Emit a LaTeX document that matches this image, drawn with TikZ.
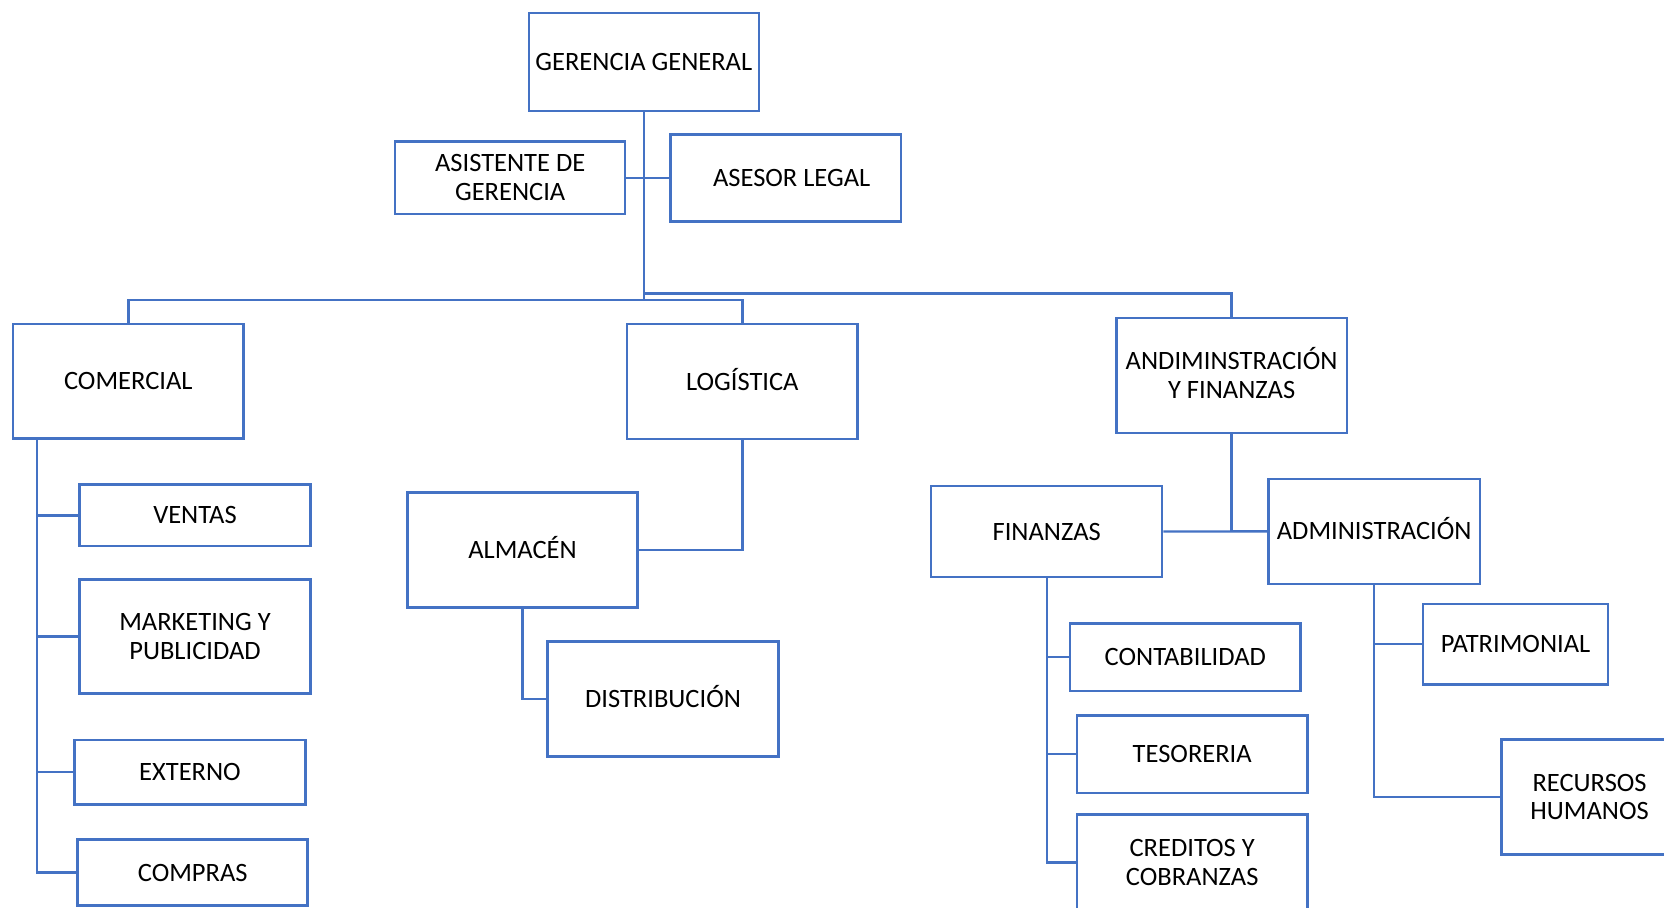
\documentclass[tikz,border=0pt]{standalone}
\usepackage{fontspec}
\setmainfont{Carlito}
\definecolor{officeblue}{HTML}{4472C4}
\begin{document}
\begin{tikzpicture}[x=0.5pt,y=-0.5pt,
  unit/.style={draw=officeblue, line width=1.25pt, fill=white, rectangle,
    inner sep=0pt, align=center, text=black,
    font=\fontsize{13.25}{14.3}\selectfont},
  link/.style={draw=officeblue, line width=1.2pt}]
\clip (0,0) rectangle (1664,907);
\fill[white] (0,0) rectangle (1664,907);

% top management
\node[unit, minimum width=115pt, minimum height=49.2pt] (gg) at (643.8,62) {GERENCIA GENERAL};
\node[unit, minimum width=115pt, minimum height=36.4pt] (asis) at (510.2,177.7) {ASISTENTE DE\\GERENCIA};
\node[unit, minimum width=115.3pt, minimum height=43.3pt] (asesor) at (785.7,178) {\hspace*{6pt}ASESOR LEGAL};

% main areas
\node[unit, minimum width=115.3pt, minimum height=57.3pt] (com) at (128.3,381.3) {COMERCIAL};
\node[unit, minimum width=115.3pt, minimum height=57.5pt] (log) at (742.3,381.5) {LOG\smash{Í}STICA};
\node[unit, minimum width=115.3pt, minimum height=57.7pt] (adf) at (1231.6,375.5) {ANDIMINSTRACI\smash{Ó}N\\Y FINANZAS};

% commercial area
\node[unit, minimum width=115.3pt, minimum height=30.8pt] (ven) at (195,515.4) {VENTAS};
\node[unit, minimum width=115.3pt, minimum height=57.1pt] (mkt) at (195,636.6) {MARKETING Y\\PUBLICIDAD};
\node[unit, minimum width=115.3pt, minimum height=32.3pt] (ext) at (190,772.1) {EXTERNO};
\node[unit, minimum width=115pt, minimum height=33.2pt] (cmp) at (192.7,872.5) {COMPRAS};

% logistics area
\node[unit, minimum width=115.2pt, minimum height=57.5pt] (alm) at (522.5,550.2) {ALMAC\smash{É}N};
\node[unit, minimum width=115.3pt, minimum height=57.5pt] (dis) at (663,699.2) {DISTRIBUCI\smash{Ó}N};

% administration and finance area
\node[unit, minimum width=115.5pt, minimum height=45.7pt] (fin) at (1046.7,531.5) {FINANZAS};
\node[unit, minimum width=105.8pt, minimum height=52.5pt] (adm) at (1374.2,531.4) {ADMINISTRACI\smash{Ó}N};
\node[unit, minimum width=115.3pt, minimum height=33.9pt] (con) at (1185.3,657.2) {CONTABILIDAD};
\node[unit, minimum width=115.3pt, minimum height=38.7pt] (tes) at (1192.2,754.1) {TESORERIA};
\node[unit, minimum width=115.3pt, minimum height=47.8pt] (cre) at (1192.2,862.3) {CREDITOS Y\\COBRANZAS};
\node[unit, minimum width=92.6pt, minimum height=40.3pt] (pat) at (1515.5,644.2) {PATRIMONIAL};
\node[unit, minimum width=88.2pt, minimum height=57.5pt] (rec) at (1589.6,796.9) {RECURSOS\\HUMANOS};

% bus lines under the general management
\coordinate (busL) at (643.8,300);
\coordinate (busR) at (643.8,293.3);
\draw[link] (gg.south) -- (busL);
\draw[link] (asis.east) -- (asis.east -| asesor.west);
\draw[link] (com.north) |- (busL) -| (log.north);
\draw[link] (busR) -| (adf.north);

% commercial branches
\coordinate (comT) at (36.7,438.6);
\foreach \c in {ven,mkt,ext,cmp}
  \draw[link] (comT) |- (\c.west);

% logistics branches
\draw[link] (log.south) |- (alm.east);
\draw[link] (alm.south) |- (dis.west);

% administration and finance branches
\draw[link] (adf.south) -- (adf.south |- fin.east);
\draw[link] (fin.east) -- (adm.west);
\foreach \c in {con,tes,cre}
  \draw[link] (fin.south) |- (\c.west);
\foreach \c in {pat,rec}
  \draw[link] (adm.south) |- (\c.west);
\end{tikzpicture}
\end{document}
